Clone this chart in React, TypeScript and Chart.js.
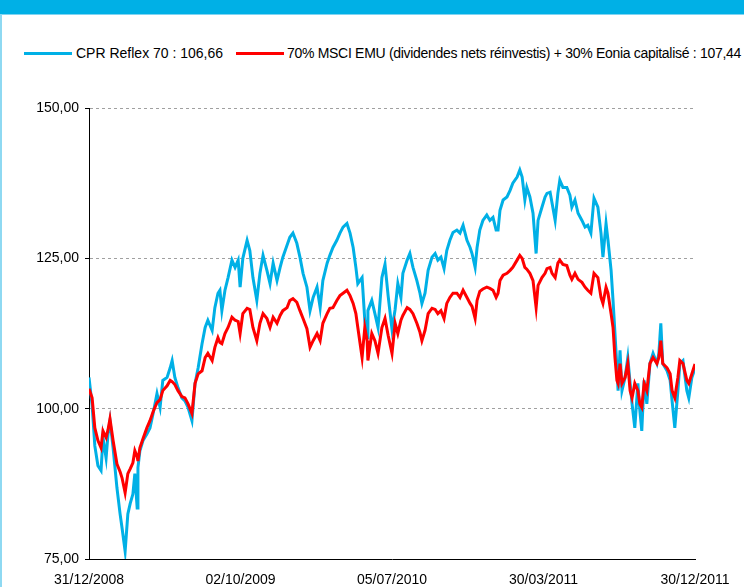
import { useEffect, useRef } from 'react';
import { Chart, registerables } from 'chart.js';

Chart.register(...registerables);

const FONT = '"Liberation Sans", Arial, sans-serif';
const BLUE = '#00B0E6';
const RED = '#FF0000';

const seriesNames = [
  'CPR Reflex 70 : 106,66',
  '70% MSCI EMU (dividendes nets réinvestis) + 30% Eonia capitalisé : 107,44',
];

const xTickWeeks = [0, 39, 78, 117, 156];
const xTickLabels = ['31/12/2008', '02/10/2009', '05/07/2010', '30/03/2011', '30/12/2011'];
const yTicks = [75, 100, 125, 150];
const yTickLabels = ['75,00', '100,00', '125,00', '150,00'];

// weeks since 31/12/2008
const weeks = [
  0, 0.8, 1.5, 2.3, 3.1, 3.6, 4.4, 4.9, 5.4, 6.2,
  7.2, 8.0, 8.5, 9.3, 10.0, 10.6, 11.3, 11.8, 12.4, 12.6,
  13.1, 13.9, 14.9, 15.7, 16.5, 17.5, 18.3, 19.0, 20.1, 20.9,
  21.4, 22.1, 22.9, 23.9, 24.7, 25.5, 26.5, 27.3, 28.1, 29.1,
  29.9, 30.6, 31.7, 32.4, 33.2, 33.7, 34.2, 35.0, 35.8, 36.8,
  37.6, 38.4, 38.9, 39.6,
  40.7, 41.4, 42.2, 43.2, 44.0, 44.8, 45.8, 46.6, 47.4, 48.4,
  49.2, 49.9, 51.0, 51.7, 52.5, 53.5, 54.3, 55.1, 56.1, 56.9,
  57.7, 58.7, 59.5, 60.2, 61.3, 62.0, 62.8, 63.8, 64.6, 65.4,
  66.4, 67.2, 68.0, 68.7, 69.2, 70.3, 71.0, 71.6, 71.8, 72.8,
  73.6, 74.4, 75.4, 76.2, 77.0, 78.0, 78.8,
  79.5, 80.3, 80.8, 81.9, 82.6, 83.4, 84.4, 85.2, 85.7, 86.5,
  87.3, 88.3, 89.1, 89.8, 90.6, 91.4, 92.1, 92.9, 93.7, 94.7,
  95.5, 96.3, 97.3, 98.1, 98.6, 99.4, 99.9, 100.6, 101.4, 102.4,
  103.2, 104.0, 104.8, 105.3, 105.8, 106.6, 107.6, 108.4, 109.1, 110.2,
  110.9, 111.5, 112.2, 112.7, 113.5, 114.3, 115.1, 115.6, 116.6, 117.4,
  117.9, 118.7, 119.2, 120.0, 120.7, 121.2, 122.0, 123.0, 123.8, 124.3,
  125.1, 125.9, 126.9, 127.7, 128.4, 129.2, 130.0, 131.0, 131.8, 132.3,
  133.1, 133.6, 134.4, 134.9, 135.4, 135.9, 136.2, 136.7, 137.2, 138.0,
  138.7, 139.3, 139.8, 140.5, 141.3, 141.8, 142.3, 142.9, 143.6, 144.4,
  145.2, 146.2, 146.7, 147.2, 147.7, 148.8, 149.6, 150.1, 150.8, 151.6,
  152.1, 152.9, 153.9, 154.4, 155.2, 156,
];

const reflex = [
  105.2, 100.6, 93.8, 90.5, 89.7, 95.2, 91.8, 95.8, 98, 93.5,
  86.8, 82.5, 80.2, 76.3, 82.5, 84.2, 85.8, 89.2, 83.5, 90.2,
  93, 94.7, 95.8, 96.8, 99.2, 102.5, 100.2, 104.7, 105.2, 106.8,
  108, 105.2, 103.5, 101.8, 101.3, 100.2, 98, 104.2, 106.8, 110.8,
  113.5, 114.7, 113, 116.8, 119.2, 119.7, 116.3, 119.7, 121.8, 124.7,
  123.5, 124.7, 120.2, 125,
  128, 126.3, 121.8, 118, 122.5, 125.5, 123, 120.8, 124.2, 121.3,
  123.5, 125.2, 127.2, 128.5, 129.2, 127.5, 125.2, 122.5, 120.2, 116.3,
  118.5, 120.2, 116.8, 121.3, 124.2, 125.5, 126.8, 128, 129.2, 130.2,
  130.8, 129.2, 126.8, 123.5, 120.8, 121.8, 114.7, 111.8, 116.3, 118,
  115.8, 113.5, 121.8, 124, 118.8, 113.2, 116.5,
  120.8, 118.5, 122.5, 124.7, 125.8, 123.5, 121.3, 119.2, 117.5, 119.2,
  123, 125.2, 125.8, 124.7, 125.2, 123.3, 126.3, 128, 129.3, 129.7,
  129.2, 130.5, 128, 126.8, 125.8, 123.5, 126.8, 129.7, 131.3, 132.2,
  131.3, 131.8, 129.7, 129.7, 133, 134.7, 135.2, 136.3, 137.5, 138.5,
  139.7, 138.5, 134.7, 136.8, 135.2, 132.5, 125.8, 131.3, 133.5, 135.2,
  135.8, 136, 134.2, 131.3, 135.8, 138, 136.8, 136.8, 135.5, 133.5,
  134.7, 132.5, 131.3, 130.2, 130.5, 129.2, 135, 133.5, 129.2, 125.2,
  130.8, 128, 123, 118, 112.5, 106.8, 103, 109.7, 103, 105.2,
  108.5, 104.2, 100.8, 96.8, 104.2, 99.7, 96.3, 104.7, 100.8, 107.5,
  109.2, 107.5, 109.2, 114.2, 107.5, 106.3, 104.7, 101.3, 96.8, 103,
  107.5, 108, 103, 101.8, 105.2, 106.66,
];

const benchmark = [
  103.3, 101.8, 96.8, 94.7, 93.5, 96.3, 95.2, 96.5, 98.3, 94.7,
  90.8, 89.5, 88.5, 86, 89.2, 90, 91, 93, 92, 91.3,
  93.5, 95, 96.8, 98, 99.5, 101, 101.5, 103, 103.8, 104.7,
  104.5, 104, 103, 102, 101.8, 100.8, 99.2, 104.2, 105.8, 106.3,
  108.5, 109.2, 108, 110.2, 111.8, 111, 110.8, 112.5, 113.5, 115.2,
  114.7, 114.5, 112.5, 115.8,
  116.7, 116.5, 113.5, 111.3, 114.2, 115.8, 115, 113.5, 115.2, 114.2,
  115.5, 116.3, 116.8, 118, 118.3, 117.7, 116.3, 115, 113.3, 110.2,
  111.3, 112.5, 111.3, 114.2, 115.8, 116.7, 116.8, 118, 118.8, 119.2,
  119.7, 118.8, 117.5, 115.8, 113.5, 108.5, 113.5, 111.3, 108, 112.5,
  111.3, 109.2, 113.5, 115, 112.2, 109.2, 114.2,
  112.5, 114.7, 115.5, 116.8, 116.5, 115.8, 114.2, 112.7, 111.3, 113,
  115.8, 116.7, 116.5, 115.8, 116.3, 115, 117.5, 118.5, 119.2, 119.2,
  118.5, 119.7, 118.5, 117.5, 117, 115, 118, 119.5, 119.9, 120.2,
  120, 119.7, 118.5, 119.2, 121.3, 122.2, 122.5, 123, 123.5, 124.7,
  125.5, 125, 123.5, 123.2, 122.5, 121.3, 116.8, 120.5, 121.8, 122.5,
  123.3, 123.5, 122.5, 121.8, 124.2, 124.7, 124, 123.8, 122.2, 121.5,
  122.5, 121.5, 121, 120.2, 119.7, 119.2, 122.5, 121.8, 118.5, 117.5,
  120.2, 119.2, 115.8, 113.5, 108.5, 104.7, 104.2, 107.5, 104.2, 105.2,
  107.5, 103, 101.8, 104.2, 103, 100.8, 100.2, 104.2, 103, 107.5,
  108.5, 107.5, 108.5, 111.3, 107.5, 106.8, 105.8, 103, 101.8, 105.2,
  108, 107.5, 104.7, 104.2, 105.8, 107.44,
];

export default function App() {
  const canvasRef = useRef<HTMLCanvasElement>(null);

  useEffect(() => {
    if (!canvasRef.current) return;
    const chart = new Chart(canvasRef.current, {
      type: 'line',
      data: {
        datasets: [
          {
            label: seriesNames[0],
            data: weeks.map((w, i) => ({ x: w, y: reflex[i] })),
            borderColor: BLUE,
            backgroundColor: BLUE,
            borderWidth: 3,
            pointRadius: 0,
            tension: 0,
            order: 1,
          },
          {
            label: seriesNames[1],
            data: weeks.map((w, i) => ({ x: w, y: benchmark[i] })),
            borderColor: RED,
            backgroundColor: RED,
            borderWidth: 3,
            pointRadius: 0,
            tension: 0,
            order: 0,
          },
        ],
      },
      options: {
        responsive: false,
        animation: false,
        events: [],
        layout: { padding: { left: 0, right: 49, top: 108, bottom: 0 } },
        plugins: { legend: { display: false }, tooltip: { enabled: false } },
        scales: {
          x: {
            type: 'linear',
            min: 0,
            max: 156,
            afterBuildTicks: (s: any) => {
              s.ticks = xTickWeeks.map((v) => ({ value: v }));
            },
            afterFit: (s: any) => {
              s.height = 28;
            },
            grid: { display: false, drawTicks: false },
            border: { display: true, color: '#000', width: 1 },
            ticks: {
              autoSkip: false,
              maxRotation: 0,
              minRotation: 0,
              padding: 13,
              color: '#000',
              font: { family: FONT, size: 14 },
              callback: (v: any) => {
                const i = xTickWeeks.indexOf(Number(v));
                return i >= 0 ? xTickLabels[i] : '';
              },
            },
          },
          y: {
            type: 'linear',
            min: 75,
            max: 150,
            afterBuildTicks: (s: any) => {
              s.ticks = yTicks.map((v) => ({ value: v }));
            },
            afterFit: (s: any) => {
              s.width = 89;
            },
            grid: {
              color: (ctx: any) => (ctx.tick && ctx.tick.value === 75 ? 'rgba(0,0,0,0)' : '#A0A0A0'),
              lineWidth: 1,
              tickColor: '#000',
              tickLength: 4,
              tickBorderDash: [],
              drawTicks: true,
            },
            border: { display: true, color: '#000', width: 1, dash: [3, 3] },
            ticks: {
              padding: 6,
              color: '#000',
              font: { family: FONT, size: 14 },
              callback: (v: any) => {
                const i = yTicks.indexOf(Number(v));
                return i >= 0 ? yTickLabels[i] : '';
              },
            },
          },
        },
      },
    });
    return () => chart.destroy();
  }, []);

  const textStyle: any = {
    position: 'absolute',
    top: 45,
    fontFamily: FONT,
    fontSize: 14,
    lineHeight: '16px',
    color: '#000',
    whiteSpace: 'nowrap',
  };

  return (
    <div
      style={{
        position: 'fixed',
        left: 0,
        top: 0,
        width: 744,
        height: 587,
        background: '#fff',
        overflow: 'hidden',
      }}
    >
      <div style={{ position: 'absolute', left: 0, top: 0, width: 744, height: 14, background: '#00B0E6' }} />
      <div style={{ position: 'absolute', left: 0, top: 14, width: 744, height: 1, background: '#7FD4F2' }} />
      <div style={{ position: 'absolute', left: 0, top: 14, width: 2, height: 573, background: '#8ED9F2' }} />
      <div style={{ position: 'absolute', left: 24, top: 52, width: 48, height: 3, background: BLUE }} />
      <span style={{ ...textStyle, left: 76 }}>{seriesNames[0]}</span>
      <div style={{ position: 'absolute', left: 236, top: 52, width: 48, height: 3, background: RED }} />
      <span style={{ ...textStyle, left: 287, letterSpacing: '-0.3px' }}>{seriesNames[1]}</span>
      <canvas
        ref={canvasRef}
        width={744}
        height={587}
        style={{ position: 'absolute', left: 0, top: 0, width: 744, height: 587 }}
      />
    </div>
  );
}
